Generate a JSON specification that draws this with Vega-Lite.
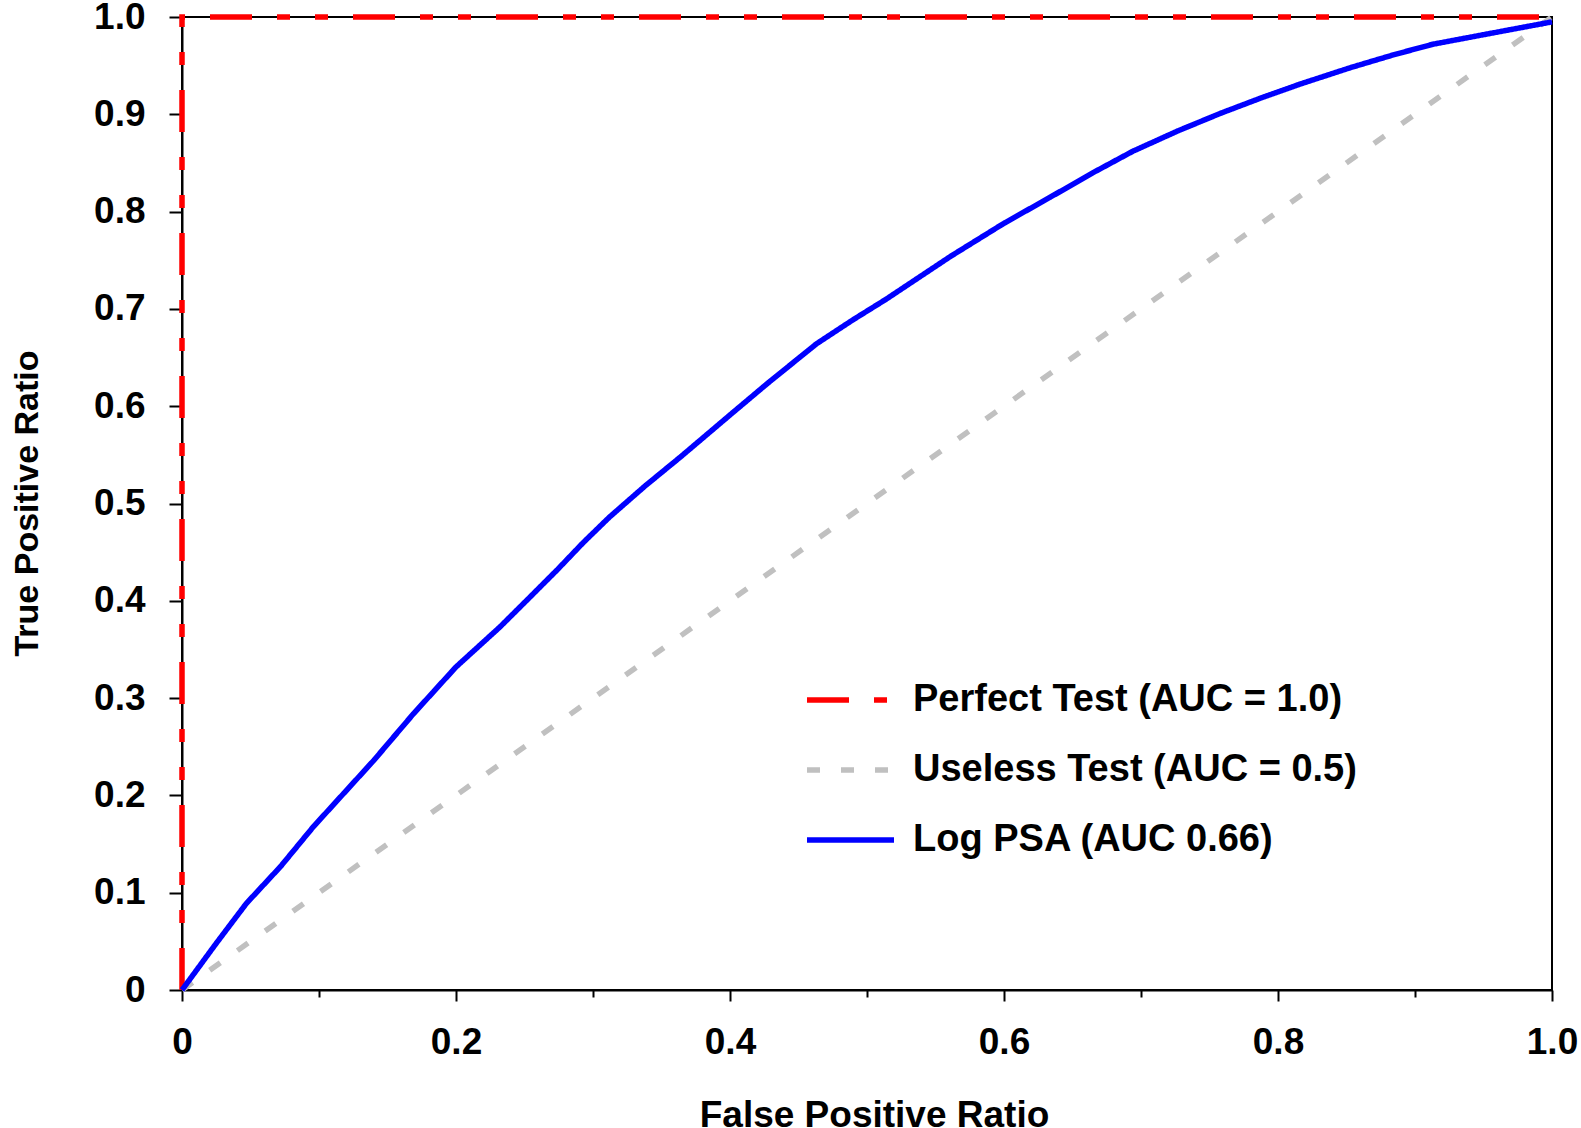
{
  "$schema": "https://vega.github.io/schema/vega-lite/v6.json",
  "width": 1370,
  "height": 973,
  "autosize": {"type": "none"},
  "padding": {"left": 182, "top": 17, "right": 29, "bottom": 138},
  "background": "white",
  "config": {
    "view": {"stroke": "black", "strokeWidth": 2},
    "font": "Liberation Sans"
  },
  "data": {
    "values": [
      {"series": "Useless Test (AUC = 0.5)", "i": 0, "fpr": 0, "tpr": 0},
      {"series": "Useless Test (AUC = 0.5)", "i": 1, "fpr": 1, "tpr": 1},
      {"series": "Perfect Test (AUC = 1.0)", "i": 0, "fpr": 0, "tpr": 0},
      {"series": "Perfect Test (AUC = 1.0)", "i": 1, "fpr": 0, "tpr": 1},
      {"series": "Perfect Test (AUC = 1.0)", "i": 2, "fpr": 1, "tpr": 1},
      {"series": "Log PSA (AUC 0.66)", "i": 0, "fpr": 0, "tpr": 0},
      {"series": "Log PSA (AUC 0.66)", "i": 1, "fpr": 0.025, "tpr": 0.048},
      {"series": "Log PSA (AUC 0.66)", "i": 2, "fpr": 0.047, "tpr": 0.089},
      {"series": "Log PSA (AUC 0.66)", "i": 3, "fpr": 0.072, "tpr": 0.127},
      {"series": "Log PSA (AUC 0.66)", "i": 4, "fpr": 0.096, "tpr": 0.168},
      {"series": "Log PSA (AUC 0.66)", "i": 5, "fpr": 0.118, "tpr": 0.202},
      {"series": "Log PSA (AUC 0.66)", "i": 6, "fpr": 0.140, "tpr": 0.236},
      {"series": "Log PSA (AUC 0.66)", "i": 7, "fpr": 0.169, "tpr": 0.284},
      {"series": "Log PSA (AUC 0.66)", "i": 8, "fpr": 0.200, "tpr": 0.332},
      {"series": "Log PSA (AUC 0.66)", "i": 9, "fpr": 0.232, "tpr": 0.373},
      {"series": "Log PSA (AUC 0.66)", "i": 10, "fpr": 0.252, "tpr": 0.401},
      {"series": "Log PSA (AUC 0.66)", "i": 11, "fpr": 0.274, "tpr": 0.432},
      {"series": "Log PSA (AUC 0.66)", "i": 12, "fpr": 0.293, "tpr": 0.460},
      {"series": "Log PSA (AUC 0.66)", "i": 13, "fpr": 0.312, "tpr": 0.486},
      {"series": "Log PSA (AUC 0.66)", "i": 14, "fpr": 0.338, "tpr": 0.518},
      {"series": "Log PSA (AUC 0.66)", "i": 15, "fpr": 0.364, "tpr": 0.548},
      {"series": "Log PSA (AUC 0.66)", "i": 16, "fpr": 0.400, "tpr": 0.591},
      {"series": "Log PSA (AUC 0.66)", "i": 17, "fpr": 0.427, "tpr": 0.623},
      {"series": "Log PSA (AUC 0.66)", "i": 18, "fpr": 0.463, "tpr": 0.664},
      {"series": "Log PSA (AUC 0.66)", "i": 19, "fpr": 0.490, "tpr": 0.689},
      {"series": "Log PSA (AUC 0.66)", "i": 20, "fpr": 0.514, "tpr": 0.710},
      {"series": "Log PSA (AUC 0.66)", "i": 21, "fpr": 0.561, "tpr": 0.754},
      {"series": "Log PSA (AUC 0.66)", "i": 22, "fpr": 0.600, "tpr": 0.788},
      {"series": "Log PSA (AUC 0.66)", "i": 23, "fpr": 0.634, "tpr": 0.815},
      {"series": "Log PSA (AUC 0.66)", "i": 24, "fpr": 0.665, "tpr": 0.840},
      {"series": "Log PSA (AUC 0.66)", "i": 25, "fpr": 0.694, "tpr": 0.862},
      {"series": "Log PSA (AUC 0.66)", "i": 26, "fpr": 0.727, "tpr": 0.883},
      {"series": "Log PSA (AUC 0.66)", "i": 27, "fpr": 0.758, "tpr": 0.901},
      {"series": "Log PSA (AUC 0.66)", "i": 28, "fpr": 0.788, "tpr": 0.917},
      {"series": "Log PSA (AUC 0.66)", "i": 29, "fpr": 0.816, "tpr": 0.931},
      {"series": "Log PSA (AUC 0.66)", "i": 30, "fpr": 0.853, "tpr": 0.948},
      {"series": "Log PSA (AUC 0.66)", "i": 31, "fpr": 0.884, "tpr": 0.961},
      {"series": "Log PSA (AUC 0.66)", "i": 32, "fpr": 0.913, "tpr": 0.972},
      {"series": "Log PSA (AUC 0.66)", "i": 33, "fpr": 0.962, "tpr": 0.985},
      {"series": "Log PSA (AUC 0.66)", "i": 34, "fpr": 1.0, "tpr": 0.995}
    ]
  },
  "mark": {"type": "line", "strokeWidth": 5.5, "strokeCap": "butt", "clip": false},
  "encoding": {
    "x": {
      "field": "fpr",
      "type": "quantitative",
      "scale": {"domain": [0, 1], "nice": false, "zero": false},
      "axis": {
        "values": [0, 0.1, 0.2, 0.3, 0.4, 0.5, 0.6, 0.7, 0.8, 0.9, 1.0],
        "labelExpr": "round(datum.value*10) % 2 == 0 ? (datum.value == 0 ? '0' : format(datum.value, '.1f')) : ''",
        "grid": false,
        "domainColor": "black",
        "domainWidth": 2,
        "tickColor": "black",
        "tickWidth": 2,
        "tickSize": {"condition": {"test": "round(datum.value*10) % 2 == 0", "value": 11}, "value": 7},
        "labelPadding": 23,
        "labelFont": "Liberation Sans",
        "labelFontSize": 37,
        "labelFontWeight": "bold",
        "labelColor": "black",
        "labelFlush": false,
        "labelOverlap": false,
        "title": "False Positive Ratio",
        "titleFont": "Liberation Sans",
        "titleFontSize": 37,
        "titleFontWeight": "bold",
        "titleColor": "black",
        "titleX": 692,
        "titleY": 136,
        "titleBaseline": "alphabetic",
        "titleAlign": "center"
      }
    },
    "y": {
      "field": "tpr",
      "type": "quantitative",
      "scale": {"domain": [0, 1], "nice": false, "zero": false},
      "axis": {
        "values": [0, 0.1, 0.2, 0.3, 0.4, 0.5, 0.6, 0.7, 0.8, 0.9, 1.0],
        "labelExpr": "datum.value == 0 ? '0' : format(datum.value, '.1f')",
        "grid": false,
        "domainColor": "black",
        "domainWidth": 2,
        "tickColor": "black",
        "tickWidth": 2,
        "tickSize": 13,
        "labelPadding": 24,
        "labelFont": "Liberation Sans",
        "labelFontSize": 37,
        "labelFontWeight": "bold",
        "labelColor": "black",
        "labelFlush": false,
        "labelOverlap": false,
        "title": "True Positive Ratio",
        "titleFont": "Liberation Sans",
        "titleFontSize": 34,
        "titleFontWeight": "bold",
        "titleColor": "black",
        "titleX": -145,
        "titleY": 486,
        "titleAngle": 270,
        "titleBaseline": "alphabetic",
        "titleAlign": "center"
      }
    },
    "color": {
      "field": "series",
      "type": "nominal",
      "scale": {
        "domain": ["Perfect Test (AUC = 1.0)", "Useless Test (AUC = 0.5)", "Log PSA (AUC 0.66)"],
        "range": ["#ff0000", "#c0c0c0", "#0000ff"]
      },
      "legend": {
        "orient": "none",
        "legendX": 622,
        "legendY": 648,
        "title": null,
        "padding": 0,
        "symbolType": "stroke",
        "symbolSize": 7569,
        "symbolStrokeWidth": 5.5,
        "clipHeight": 70,
        "rowPadding": 0,
        "labelOffset": 16,
        "labelFont": "Liberation Sans",
        "labelFontSize": 38,
        "labelFontWeight": "bold",
        "labelColor": "black",
        "labelLimit": 0
      }
    },
    "strokeDash": {
      "field": "series",
      "type": "nominal",
      "scale": {
        "domain": ["Perfect Test (AUC = 1.0)", "Useless Test (AUC = 0.5)", "Log PSA (AUC 0.66)"],
        "range": [[42, 25, 13, 25, 13, 25], [13, 21], [1, 0]]
      }
    },
    "order": {"field": "i", "type": "quantitative"}
  }
}
